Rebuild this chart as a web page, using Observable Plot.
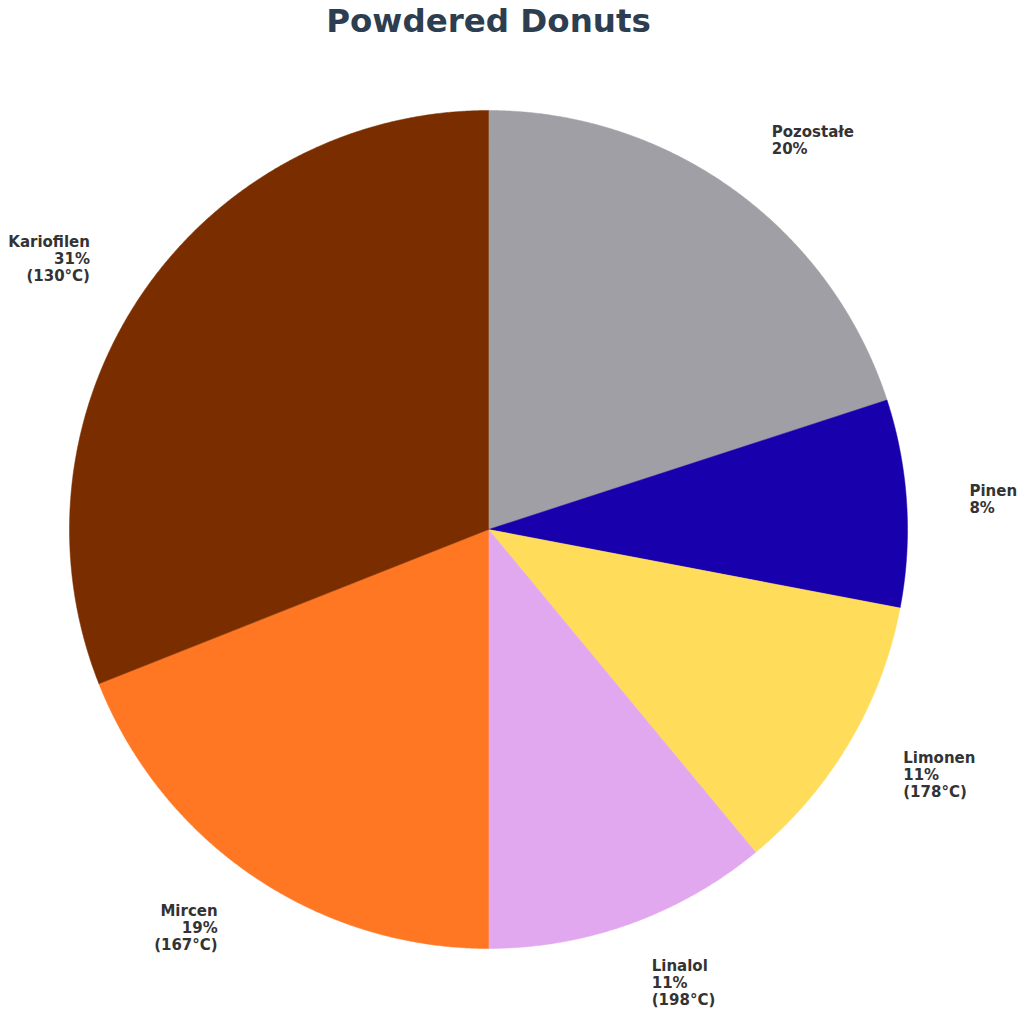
<!DOCTYPE html>
<html>
<head>
<meta charset="utf-8">
<script src="https://cdn.jsdelivr.net/npm/d3@7"></script>
<script src="https://cdn.jsdelivr.net/npm/@observablehq/plot@0.6"></script>
<style>
  body { margin: 0; background: #ffffff; }
  svg { font-family: "DejaVu Sans", sans-serif; }
</style>
</head>
<body>
<div id="chart"></div>
<script>
const title = "Powdered Donuts";
const categories = ["Pozostałe", "Pinen", "Limonen", "Linalol", "Mircen", "Kariofilen"];
const shares = [20, 8, 11, 11, 19, 31];
const temps = [null, null, "178°C", "198°C", "167°C", "130°C"];
const colors = ["#a09fa5", "#1800ad", "#ffdd5b", "#e1a8ef", "#ff7722", "#7a2e00"];

const total = d3.sum(shares);
let acc = 0;
const slices = categories.map((name, i) => {
  const a0 = acc / total * 2 * Math.PI;
  acc += shares[i];
  const a1 = acc / total * 2 * Math.PI;
  return {name, value: shares[i], temp: temps[i], a0, a1};
});

const pts = [];
for (const s of slices) {
  pts.push({name: s.name, x: 0, y: 0});
  const n = Math.max(2, Math.ceil((s.a1 - s.a0) / (Math.PI / 720)));
  for (let k = 0; k <= n; k++) {
    const a = s.a0 + (s.a1 - s.a0) * k / n;
    pts.push({name: s.name, x: Math.sin(a), y: Math.cos(a)});
  }
  pts.push({name: s.name, x: 0, y: 0});
}

const labelR = 1.15;
const labels = slices.map(s => {
  const m = (s.a0 + s.a1) / 2;
  const lines = [s.name, s.value + "%"];
  if (s.temp) lines.push("(" + s.temp + ")");
  return {text: lines.join("\n"), x: labelR * Math.sin(m), y: labelR * Math.cos(m), side: Math.sin(m) >= 0 ? "start" : "end"};
});

const chart = Plot.plot({
  width: 1024,
  height: 1014,
  marginLeft: 69,
  marginRight: 117,
  marginTop: 110,
  marginBottom: 66,
  x: {domain: [-1, 1], axis: null},
  y: {domain: [-1, 1], axis: null},
  color: {domain: categories, range: colors},
  marks: [
    Plot.line(pts, {x: "x", y: "y", z: "name", fill: "name", stroke: "name", strokeWidth: 0.5, curve: "linear"}),
    Plot.text(labels.filter(d => d.side === "start"), {x: "x", y: "y", text: "text", textAnchor: "start", lineAnchor: "middle", lineHeight: 1.133, fontSize: 15, fontWeight: "bold", fill: "#333333"}),
    Plot.text(labels.filter(d => d.side === "end"), {x: "x", y: "y", text: "text", textAnchor: "end", lineAnchor: "middle", lineHeight: 1.133, fontSize: 15, fontWeight: "bold", fill: "#333333"}),
    Plot.text([title], {frameAnchor: "top", dy: -89, lineAnchor: "middle", fontSize: 32.5, fontWeight: "bold", fill: "#2c3e50"})
  ]
});
document.getElementById("chart").appendChild(chart);
</script>
</body>
</html>
